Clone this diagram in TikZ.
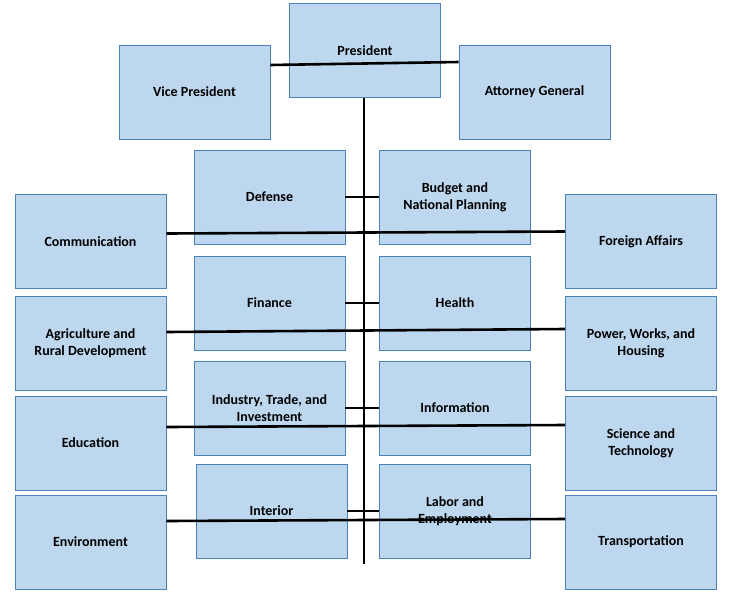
\documentclass[tikz,border=0pt]{standalone}
\usepackage{fontspec}
\setmainfont{Carlito}
\begin{document}
\begin{tikzpicture}[x=1pt,y=-1pt,
  box/.style={draw=blue!50!cyan!60!black!70, line width=0.6pt, fill={rgb,255:red,189;green,215;blue,238}, minimum width=151pt, minimum height=94pt, align=center, font=\fontsize{14}{17}\selectfont\bfseries},
  conn/.style={line width=2.6pt, black}]
\useasboundingbox (0,0) rectangle (733,600);
\node[box] (pres) at (365,50.5) {President};
\node[box] (vp) at (194.5,92) {Vice President};
\node[box] (ag) at (534.5,92) {Attorney General};
\node[box] (def) at (269.5,197) {Defense};
\node[box] (bud) at (455,197) {Budget and\\National Planning};
\node[box] (com) at (90.5,241.5) {Communication};
\node[box] (for) at (641,241.5) {Foreign Affairs};
\node[box] (fin) at (269.5,303) {Finance};
\node[box] (hea) at (455,303) {Health};
\node[box] (agr) at (90.5,343) {Agriculture and\\Rural Development};
\node[box] (pow) at (641,343) {Power, Works, and\\Housing};
\node[box] (ind) at (269.5,408) {Industry, Trade, and\\Investment};
\node[box] (inf) at (455,408) {Information};
\node[box] (edu) at (90.5,443) {Education};
\node[box] (sci) at (641,443) {Science and\\Technology};
\node[box] (int) at (271.5,511) {Interior};
\node[box] (lab) at (455,511) {Labor and\\Employment};
\node[box] (env) at (90.5,542) {Environment};
\node[box] (tra) at (641,542) {Transportation};
\coordinate (bot) at (364,564);
\draw[conn] (pres.south -| bot) -- (bot);
\draw[conn] ([yshift=27pt]vp.east) -- ([yshift=30pt]ag.west);
\draw[conn] (def.east) -- (bud.west);
\draw[conn] ([yshift=8pt]com.east) -- ([yshift=10pt]for.west);
\draw[conn] (fin.east) -- (hea.west);
\draw[conn] ([yshift=11pt]agr.east) -- ([yshift=14pt]pow.west);
\draw[conn] (ind.east) -- (inf.west);
\draw[conn] ([yshift=16pt]edu.east) -- ([yshift=18pt]sci.west);
\draw[conn] (int.east) -- (lab.west);
\draw[conn] ([yshift=21pt]env.east) -- ([yshift=23pt]tra.west);
\end{tikzpicture}
\end{document}
